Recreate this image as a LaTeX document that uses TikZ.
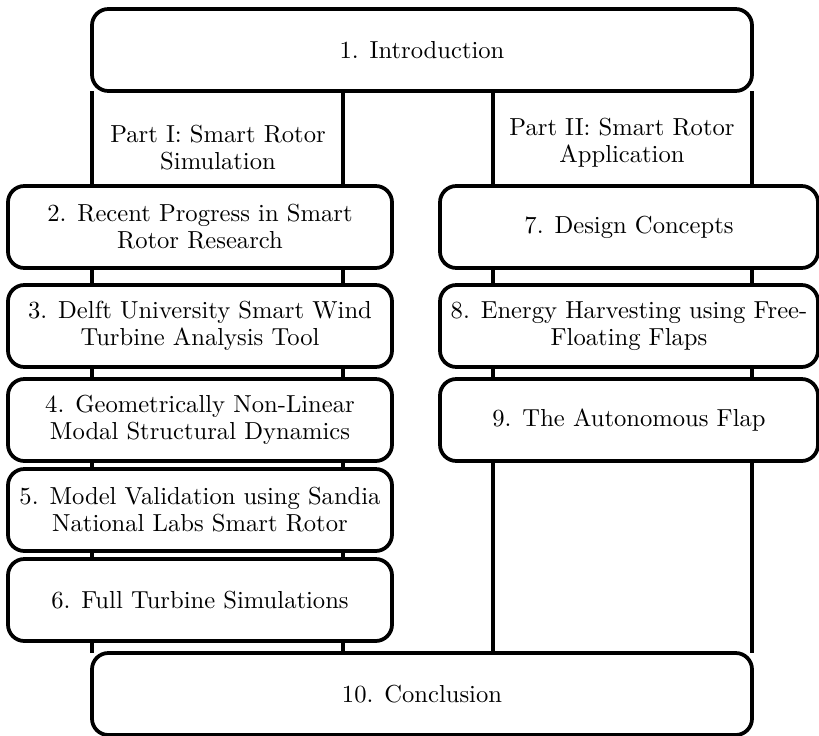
\documentclass[tikz,border=0pt]{standalone}
\usepackage{tikz}
\usetikzlibrary{backgrounds}
\tikzset{
    chapter/.style={draw=black, fill=white, line width=1.6pt, rounded corners=7pt, align=center, inner sep=2pt, outer sep=0pt, minimum height=1.23cm, font=\fontsize{10.5}{11.6}\selectfont},
    leftbox/.style={chapter, minimum width=5.76cm},
    rightbox/.style={chapter, minimum width=5.67cm},
    widebox/.style={chapter, minimum width=9.9cm},
    partline/.style={draw=black, line width=1.6pt},
    parttext/.style={align=center, font=\fontsize{10.5}{11.6}\selectfont}
}

\begin{document}
\begin{tikzpicture}[x=0.015cm, y=-0.015cm]
    \useasboundingbox (0,0) rectangle (819,736);
    \node[widebox] (intro) at (422,50) {1. Introduction};
    \node[parttext] (partone) at (218,148) {Part I: Smart Rotor\\Simulation};
    \node[parttext] (parttwo) at (622,143) {Part II: Smart Rotor\\Application};
    \node[leftbox] (ch2) at (200,227) {2. Recent Progress in Smart\\Rotor Research};
    \node[leftbox] (ch3) at (200,326) {3. Delft University Smart Wind\\Turbine Analysis Tool};
    \node[leftbox] (ch4) at (200,420) {4. Geometrically Non-Linear\\Modal Structural Dynamics};
    \node[leftbox] (ch5) at (200,510) {5. Model Validation using Sandia\\National Labs Smart Rotor};
    \node[leftbox] (ch6) at (200,600) {6. Full Turbine Simulations};
    \node[rightbox] (ch7) at (629,227) {7. Design Concepts};
    \node[rightbox] (ch8) at (629,326) {8. Energy Harvesting using Free-\\Floating Flaps};
    \node[rightbox] (ch9) at (629,420) {9. The Autonomous Flap};
    \node[widebox] (concl) at (422,694) {10. Conclusion};
    \coordinate (colA) at (343,0);
    \coordinate (colB) at (493,0);
    \begin{scope}[on background layer]
        \draw[partline] (intro.south west) -- (concl.north west);
        \draw[partline] (intro.south -| colA) -- (concl.north -| colA);
        \draw[partline] (intro.south -| colB) -- (concl.north -| colB);
        \draw[partline] (intro.south east) -- (concl.north east);
    \end{scope}
\end{tikzpicture}
\end{document}
